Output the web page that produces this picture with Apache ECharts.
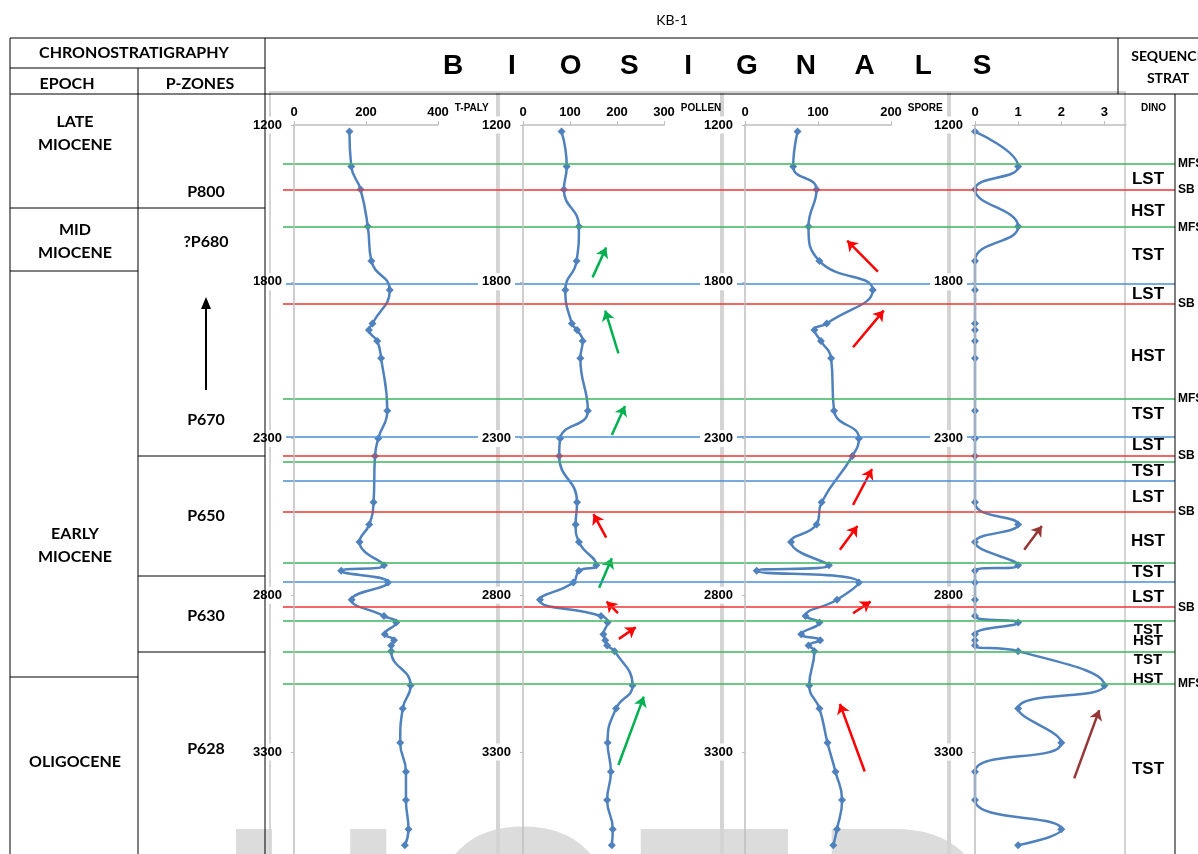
<!DOCTYPE html>
<html>
<head>
<meta charset="utf-8">
<title>KB-1</title>
<script src="https://cdn.jsdelivr.net/npm/echarts@6/dist/echarts.min.js"></script>
<style>
  html, body { margin: 0; padding: 0; background: #fff; }
  #chart { width: 1198px; height: 854px; }
</style>
</head>
<body>
<div id="chart"></div>
<script>
// sample depths (m), shared by the four biosignal tracks
var depths = [1321, 1432, 1506, 1624, 1734, 1826, 1933, 1954, 1989, 2044, 2211, 2300, 2356,
  2503, 2574, 2630, 2704, 2722, 2759, 2814, 2866, 2887, 2924, 2943, 2960, 2978,
  3088, 3161, 3270, 3363, 3453, 3546, 3597];

var tPaly = [154, 159, 185, 205, 215, 266, 218, 208, 231, 242, 259, 234, 225,
  221, 209, 182, 250, 131, 261, 160, 250, 284, 252, 278, 270, 270,
  324, 302, 295, 311, 311, 318, 308];

var pollen = [82, 93, 87, 119, 114, 90, 104, 115, 127, 122, 138, 79, 77,
  115, 112, 119, 156, 119, 107, 36, 166, 180, 171, 175, 179, 195,
  233, 198, 180, 187, 179, 191, 189];

var spore = [72, 66, 98, 87, 102, 175, 112, 95, 104, 118, 122, 156, 147,
  105, 98, 63, 115, 16, 156, 126, 83, 102, 77, 103, 87, 95,
  88, 102, 113, 124, 133, 126, 121];

var dino = [0, 1, 0, 1, 0, 0, 0, 0, 0, 0, 0, 0, 0,
  0, 1, 0, 1, 0, 0, 0, 0, 1, 0, 0, 0, 1,
  3, 1, 2, 0, 0, 2, 1];

// depth axis ticks and the labels printed on them
var depthTicks = [1300, 1800, 2300, 2800, 3300];
var depthTickLabels = ['1200', '1800', '2300', '2800', '3300'];

// key surfaces
var surfaceDepths = [1424, 1505, 1626, 1807, 1869, 2172, 2294, 2355, 2374, 2433, 2534,
  2697, 2758, 2838, 2880, 2979, 3082];
var surfaceKinds = ['MFS', 'SB', 'MFS', 'TS', 'SB', 'MFS', 'TS', 'SB', 'MFS', 'TS', 'SB',
  'MFS', 'TS', 'SB', 'MFS', 'MFS', 'MFS'];
var surfaceLabels = ['MFS', 'SB', 'MFS', '', 'SB', 'MFS', '', 'SB', '', '', 'SB',
  '', '', 'SB', '', '', 'MFS'];

// systems tracts (sequence strat column)
var tractNames = ['LST', 'HST', 'TST', 'LST', 'HST', 'TST', 'LST', 'TST', 'LST', 'HST',
  'TST', 'LST', 'TST', 'HST', 'TST', 'HST', 'TST'];
var tractDepths = [1472, 1574, 1715, 1839, 2037, 2222, 2321, 2404, 2486, 2627,
  2726, 2805, 2911, 2946, 3006, 3067, 3354];

// trend arrows: [x1, depth1, x2, depth2, kind]
var pollenArrows = [
  [148, 1786, 177, 1691, 'g'], [203, 2028, 175, 1892, 'g'], [189, 2289, 217, 2196, 'g'],
  [177, 2616, 150, 2541, 'r'], [162, 2776, 189, 2682, 'g'], [202, 2857, 178, 2820, 'r'],
  [204, 2939, 240, 2902, 'r'], [203, 3341, 257, 3123, 'g']
];
var sporeArrows = [
  [182, 1768, 140, 1669, 'r'], [148, 2009, 190, 1892, 'r'], [148, 2512, 174, 2397, 'r'],
  [130, 2655, 154, 2579, 'r'], [148, 2857, 172, 2820, 'r'], [164, 3362, 130, 3146, 'r']
];
var dinoArrows = [
  [1.14, 2655, 1.55, 2579, 'b'], [2.3, 3384, 2.88, 3166, 'b']
];

// chronostratigraphy
var epochNames = ['LATE\nMIOCENE', 'MID\nMIOCENE', 'EARLY\nMIOCENE', 'OLIGOCENE'];
var zoneNames = ['P800', '?P680', 'P670', 'P650', 'P630', 'P628'];

var chart = echarts.init(document.getElementById('chart'));

var lineBlue = '#4f81bd';
var arrowColors = { g: '#00b050', r: '#ff0000', b: '#953735' };
var surfaceColors = { MFS: '#3cb55e', SB: '#f03535', TS: '#4a8fd6' };
var axisGrey = '#bfbfbf';
var numFont = 'Liberation Sans, Arial, sans-serif';
var headFont = 'Lato, Open Sans, sans-serif';

var plotTop = 125, plotHeight = 729, depthMin = 1300, depthMax = 3625;

var tracks = [
  { name: 'T-PALY', values: tPaly, max: 400, step: 200, left: 294, width: 144, arrows: [] },
  { name: 'POLLEN', values: pollen, max: 300, step: 100, left: 523, width: 141, arrows: pollenArrows },
  { name: 'SPORE', values: spore, max: 200, step: 100, left: 745, width: 146, arrows: sporeArrows },
  { name: 'DINO', values: dino, max: 3.5, step: 1, left: 975, width: 151, arrows: dinoArrows }
];

var grids = [], xAxes = [], yAxes = [], series = [];

tracks.forEach(function (t, i) {
  grids.push({ left: t.left, top: plotTop, width: t.width, height: plotHeight });
  xAxes.push({
    gridIndex: i, type: 'value', position: 'top', min: 0, max: t.max, interval: t.step,
    axisLine: { show: true, onZero: false, lineStyle: { color: axisGrey, width: 1.5 } },
    axisTick: { show: true, length: 4, lineStyle: { color: axisGrey } },
    splitLine: { show: false },
    axisLabel: { color: '#000', fontWeight: 'bold', fontSize: 13, fontFamily: numFont, margin: 6,
      showMaxLabel: t.max % t.step === 0 },
    name: t.name, nameLocation: 'end', nameGap: 15,
    nameTextStyle: { color: '#000', fontWeight: 'bold', fontSize: 10, fontFamily: numFont,
      align: 'left', verticalAlign: 'bottom', padding: [0, 0, 12, 0] }
  });
  yAxes.push({
    gridIndex: i, type: 'value', inverse: true, min: depthMin, max: depthMax, interval: 500, z: 5,
    axisLine: { show: true, onZero: false, lineStyle: { color: axisGrey, width: 1.5 } },
    axisTick: { show: true, length: 3, lineStyle: { color: axisGrey } },
    splitLine: { show: false },
    axisLabel: {
      color: '#000', fontWeight: 'bold', fontSize: 13, fontFamily: numFont, margin: 8,
      backgroundColor: '#fff', padding: [2, 4], showMaxLabel: false,
      formatter: function (v) {
        var k = depthTicks.indexOf(v);
        return k < 0 ? '' : depthTickLabels[k];
      }
    }
  });
  series.push({
    type: 'line', xAxisIndex: i, yAxisIndex: i, z: 3,
    data: t.values.map(function (v, k) { return [v, depths[k]]; }),
    smooth: 0.5, symbol: 'diamond', symbolSize: 8,
    lineStyle: { color: lineBlue, width: 2.5 },
    itemStyle: { color: lineBlue },
    markLine: {
      silent: true, animation: false, symbol: ['none', 'arrow'], symbolSize: 10,
      label: { show: false },
      lineStyle: { width: 2.5, type: 'solid' },
      data: t.arrows.map(function (a) {
        return [
          { coord: [a[0], a[1]], lineStyle: { color: arrowColors[a[4]], width: 2.5, type: 'solid' } },
          { coord: [a[2], a[3]] }
        ];
      })
    }
  });
});

// overlay grid for the surfaces, running across all tracks
grids.push({ left: 283, top: plotTop, width: 892, height: plotHeight });
xAxes.push({ gridIndex: 4, type: 'value', min: 0, max: 1, show: false });
yAxes.push({ gridIndex: 4, type: 'value', inverse: true, min: depthMin, max: depthMax, show: false });
series.push({
  type: 'line', xAxisIndex: 4, yAxisIndex: 4, z: 1, data: [], silent: true,
  markLine: {
    silent: true, animation: false, symbol: ['none', 'none'],
    label: { show: true, position: 'end', formatter: '{b}', distance: 3,
      color: '#000', fontWeight: 'bold', fontSize: 12, fontFamily: numFont },
    data: surfaceDepths.map(function (d, i) {
      return { yAxis: d, name: surfaceLabels[i],
        lineStyle: { color: surfaceColors[surfaceKinds[i]], width: 1.5, type: 'solid' } };
    })
  }
});

// sequence strat column
grids.push({ left: 1123, top: plotTop, width: 50, height: plotHeight });
xAxes.push({ gridIndex: 5, type: 'value', min: 0, max: 1, show: false });
yAxes.push({ gridIndex: 5, type: 'value', inverse: true, min: depthMin, max: depthMax, show: false });
series.push({
  type: 'scatter', xAxisIndex: 5, yAxisIndex: 5, z: 4, silent: true, symbolSize: 1,
  itemStyle: { color: 'rgba(0,0,0,0)', opacity: 1 },
  label: { show: true, position: 'inside', color: '#000', fontWeight: 'bold', fontFamily: numFont },
  data: tractDepths.map(function (d, i) {
    var gapUp = i > 0 ? d - tractDepths[i - 1] : 999;
    var gapDown = i < tractDepths.length - 1 ? tractDepths[i + 1] - d : 999;
    var crowded = Math.min(gapUp, gapDown) < 65;
    return { value: [0.5, d], label: { formatter: tractNames[i], fontSize: crowded ? 15 : 17 } };
  })
});

// ---- table, headings and decorations ----
var graphics = [];
function hline(x1, x2, y, color, w) {
  graphics.push({ type: 'line', z: 10, silent: true,
    shape: { x1: x1, y1: y, x2: x2, y2: y }, style: { stroke: color || '#000', lineWidth: w || 1 } });
}
function vline(x, y1, y2, color, w) {
  graphics.push({ type: 'line', z: 10, silent: true,
    shape: { x1: x, y1: y1, x2: x, y2: y2 }, style: { stroke: color || '#000', lineWidth: w || 1 } });
}
function label(str, x, y, font, align, lh) {
  graphics.push({ type: 'text', z: 11, silent: true,
    style: { text: str, x: x, y: y, font: font, fill: '#000',
      align: align || 'center', textAlign: align || 'center',
      verticalAlign: 'middle', textVerticalAlign: 'middle', lineHeight: lh || 22 } });
}

// watermark remains at the bottom
var wm = ['U', 'O', 'T', 'D'];
var wmLeft = [221, 426, 638, 815];
wm.forEach(function (c, i) {
  graphics.push({ type: 'text', z: 0, silent: true,
    style: { text: c, x: wmLeft[i], y: 808, font: 'bold 250px Liberation Sans', fill: '#dcdcdc',
      align: 'left', textAlign: 'left', verticalAlign: 'top', textVerticalAlign: 'top' } });
});

// excel panel frames
[[270, 497], [499, 721], [723, 948], [950, 1125]].forEach(function (p) {
  graphics.push({ type: 'rect', z: 0, silent: true,
    shape: { x: p[0], y: 92, width: p[1] - p[0], height: 800 },
    style: { fill: 'none', stroke: '#d4d4d4', lineWidth: 2 } });
});

// table grid
hline(10, 1198, 38);
hline(10, 265, 68);
hline(10, 1198, 94);
vline(10, 38, 854);
vline(138, 68, 854);
vline(265, 38, 854);
vline(1118, 38, 94);
vline(1175, 94, 854);
hline(10, 265, 208);
hline(10, 138, 271);
hline(10, 138, 677);
hline(138, 265, 456);
hline(138, 265, 576);
hline(138, 265, 652);

var hf = 'bold 16px ' + headFont;
label('KB-1', 672, 20, '14px ' + headFont);
label('CHRONOSTRATIGRAPHY', 134, 53, hf);
label('EPOCH', 67, 84, hf);
label('P-ZONES', 200, 84, hf);
label('SEQUENCE', 1168, 56, 'bold 14px ' + headFont);
label('STRAT', 1168, 78, 'bold 14px ' + headFont);

var epochY = [133, 241, 545, 762];
epochNames.forEach(function (n, i) { label(n, 75, epochY[i], hf, 'center', 23); });
var zoneY = [192, 242, 420, 516, 616, 749];
zoneNames.forEach(function (n, i) { label(n, 206, zoneY[i], hf); });

'BIOSIGNALS'.split('').forEach(function (c, i) {
  label(c, 453 + i * 58.8, 66, 'bold 28px ' + numFont);
});

// zone range arrow
vline(206, 390, 306, '#000', 2);
graphics.push({ type: 'polygon', z: 10, silent: true,
  shape: { points: [[206, 297], [201, 309], [211, 309]] }, style: { fill: '#000' } });

chart.setOption({
  animation: false,
  backgroundColor: '#fff',
  grid: grids,
  xAxis: xAxes,
  yAxis: yAxes,
  series: series,
  graphic: { elements: graphics }
});
</script>
</body>
</html>
